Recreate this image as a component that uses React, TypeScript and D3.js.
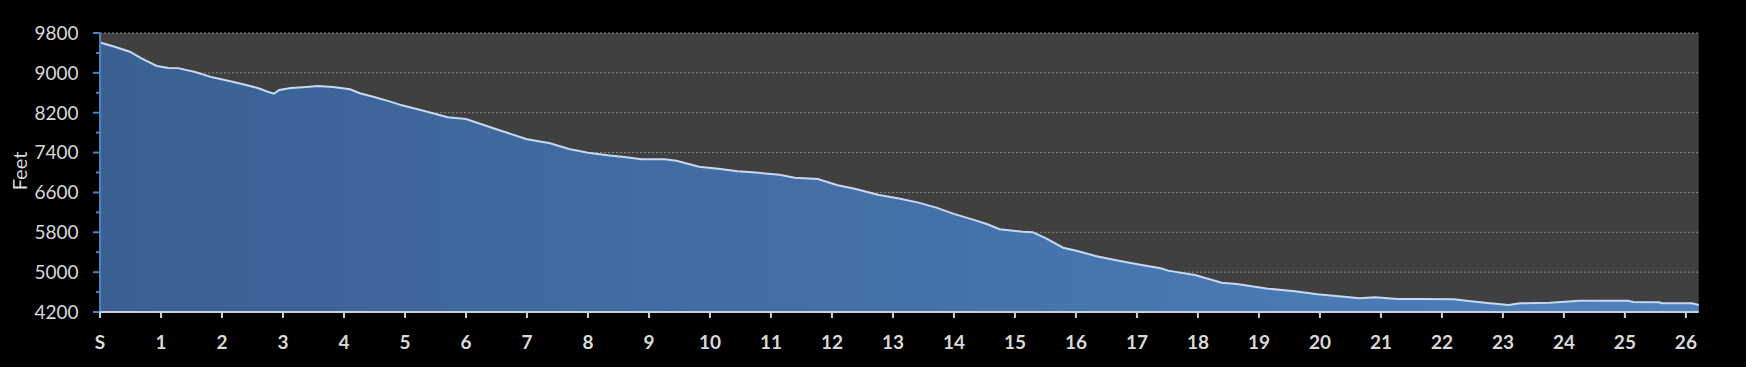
import React from "react";
import * as d3 from "d3";

const miles = [0, 0.24, 0.49, 0.68, 0.93, 1.12, 1.28, 1.56, 1.84, 2.12, 2.38, 2.6, 2.75, 2.85, 2.94, 3.13, 3.38, 3.57, 3.82, 4.1, 4.26, 4.48, 4.76, 4.95, 5.32, 5.7, 6.0, 6.5, 7.0, 7.38, 7.69, 8.0, 8.32, 8.63, 8.88, 9.26, 9.45, 9.82, 10.14, 10.45, 10.7, 11.14, 11.39, 11.77, 12.08, 12.39, 12.77, 13.08, 13.4, 13.7, 14.0, 14.3, 14.55, 14.75, 15.13, 15.29, 15.51, 15.79, 16.01, 16.32, 16.64, 17.01, 17.39, 17.51, 17.95, 18.39, 18.64, 19.15, 19.59, 19.96, 20.4, 20.65, 20.9, 21.28, 21.66, 22.2, 22.4, 22.79, 23.09, 23.28, 23.77, 24.26, 25.05, 25.13, 25.57, 25.6, 26.1, 26.21];
const elevation = [9610, 9525, 9425, 9292, 9138, 9098, 9095, 9017, 8910, 8837, 8763, 8690, 8622, 8582, 8656, 8696, 8716, 8736, 8716, 8670, 8590, 8522, 8422, 8348, 8234, 8108, 8074, 7869, 7669, 7586, 7472, 7398, 7345, 7305, 7265, 7265, 7237, 7117, 7077, 7024, 7004, 6956, 6896, 6870, 6750, 6669, 6549, 6482, 6400, 6300, 6170, 6060, 5960, 5860, 5812, 5802, 5679, 5491, 5431, 5324, 5244, 5158, 5077, 5030, 4943, 4788, 4762, 4668, 4615, 4555, 4508, 4475, 4495, 4461, 4461, 4455, 4427, 4374, 4341, 4374, 4387, 4427, 4427, 4401, 4394, 4374, 4374, 4341];

const yTicks = [4200, 5000, 5800, 6600, 7400, 8200, 9000, 9800];
const yMinorTicks = [4600, 5400, 6200, 7000, 7800, 8600, 9400];
const xTicks = [0, 1, 2, 3, 4, 5, 6, 7, 8, 9, 10, 11, 12, 13, 14, 15, 16, 17, 18, 19, 20, 21, 22, 23, 24, 25, 26];
const xTickLabels = ["S", "1", "2", "3", "4", "5", "6", "7", "8", "9", "10", "11", "12", "13", "14", "15", "16", "17", "18", "19", "20", "21", "22", "23", "24", "25", "26"];
const xMax = 26.21;
const yLabel = "Feet";

export default function App() {
  const W = 1746, H = 367;
  const left = 100, right = 1698.7, top = 33, bottom = 312;
  const x = d3.scaleLinear().domain([0, xMax]).range([left, right]);
  const y = d3.scaleLinear().domain([4200, 9800]).range([bottom, top]);
  const pts = miles.map((m, i) => [m, elevation[i]] as [number, number]);
  const area = d3.area<[number, number]>().x(d => x(d[0])).y0(bottom).y1(d => y(d[1]))(pts) || "";
  const line = d3.line<[number, number]>().x(d => x(d[0])).y(d => y(d[1]))(pts) || "";
  const font = "Lato, 'Open Sans', sans-serif";
  return (
    <svg width={W} height={H} style={{ position: "absolute", left: 0, top: 0, background: "#000" }}>
      <defs>
        <linearGradient id="fillGrad" x1="0" x2="1" y1="0" y2="0">
          <stop offset="0" stopColor="#3a6093" />
          <stop offset="1" stopColor="#4f81be" />
        </linearGradient>
      </defs>
      <rect x={0} y={0} width={W} height={H} fill="#000" />
      <rect x={left} y={top} width={right - left} height={bottom - top} fill="#404040" />
      {yTicks.map(t => (
        <line key={"g" + t} x1={left} x2={right} y1={y(t)} y2={y(t)} stroke="#8a8a8a" strokeWidth={1} strokeDasharray="2,2" />
      ))}
      <path d={area} fill="url(#fillGrad)" />
      <path d={line} fill="none" stroke="#c6d9f1" strokeWidth={2} />
      <line x1={left} x2={left} y1={top} y2={bottom} stroke="#4f81bd" strokeWidth={2} />
      {yTicks.map(t => (
        <g key={"y" + t}>
          <line x1={left - 7} x2={left} y1={y(t)} y2={y(t)} stroke="#4f81bd" strokeWidth={2} />
          <text x={78.5} y={y(t)} dy="0.36em" textAnchor="end" fill="#d9d9d9" fontFamily={font} fontSize={19}>{t}</text>
        </g>
      ))}
      {yMinorTicks.map(t => (
        <line key={"m" + t} x1={left - 4} x2={left} y1={y(t)} y2={y(t)} stroke="#4f81bd" strokeWidth={2} />
      ))}
      <line x1={left} x2={right} y1={bottom} y2={bottom} stroke="#c8d2dc" strokeWidth={2} />
      {xTicks.map((t, i) => (
        <g key={"x" + t}>
          <line x1={x(t)} x2={x(t)} y1={bottom} y2={bottom + 6} stroke="#c8d2dc" strokeWidth={2} />
          <text x={x(t)} y={342} dy="0.36em" textAnchor="middle" fill="#d9d9d9" fontFamily={font} fontWeight="bold" fontSize={19}>{xTickLabels[i]}</text>
        </g>
      ))}
      <text transform={`translate(20, 171) rotate(-90)`} textAnchor="middle" dy="0.36em" fill="#d9d9d9" fontFamily={font} fontSize={20}>{yLabel}</text>
    </svg>
  );
}
